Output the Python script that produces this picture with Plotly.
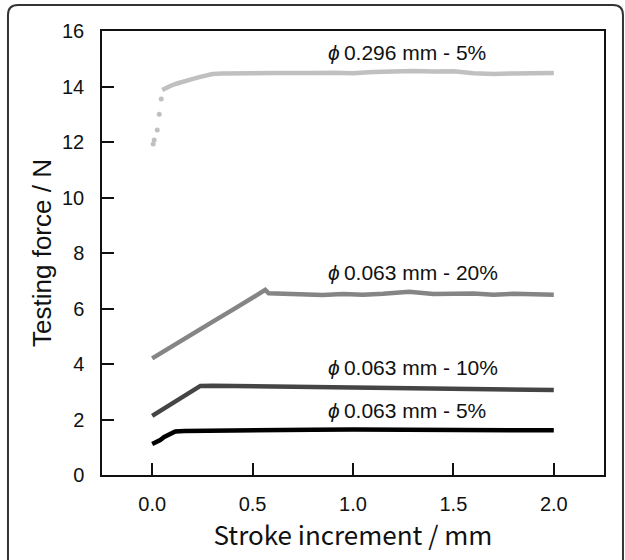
import plotly.graph_objects as go

# ---- data ----
# phi 0.296 mm - 5% : sparse initial points (drawn as dots) and the continuous part
d296_x_dots = [0.005, 0.010, 0.025, 0.035, 0.045]
d296_y_dots = [11.93, 12.07, 12.43, 13.00, 13.55]
d296_x = [0.05, 0.07, 0.09, 0.12, 0.15, 0.19, 0.23, 0.27, 0.30, 0.35, 0.40, 0.50, 0.60, 0.70,
          0.80, 0.90, 1.00, 1.10, 1.20, 1.30, 1.40, 1.50, 1.60, 1.70, 1.80, 1.90, 2.00]
d296_y = [13.87, 13.95, 14.02, 14.10, 14.18, 14.25, 14.33, 14.40, 14.45, 14.47, 14.46, 14.48, 14.49, 14.47,
          14.49, 14.50, 14.48, 14.52, 14.55, 14.56, 14.54, 14.55, 14.48, 14.45, 14.47, 14.46, 14.49]

# phi 0.063 mm - 20%
d20_x = [0.00, 0.10, 0.20, 0.30, 0.40, 0.50, 0.563, 0.58, 0.65, 0.75, 0.85, 0.95, 1.05, 1.15,
         1.28, 1.40, 1.50, 1.60, 1.70, 1.80, 1.90, 2.00]
d20_y = [4.20, 4.65, 5.10, 5.52, 5.95, 6.38, 6.67, 6.55, 6.53, 6.51, 6.49, 6.52, 6.50, 6.53,
         6.60, 6.52, 6.55, 6.54, 6.50, 6.53, 6.51, 6.50]

# phi 0.063 mm - 10%
d10_x = [0.00, 0.05, 0.10, 0.15, 0.20, 0.24, 0.30, 0.40, 0.50, 0.60, 0.80, 1.00, 1.20, 1.40,
         1.60, 1.80, 2.00]
d10_y = [2.13, 2.35, 2.60, 2.83, 3.05, 3.21, 3.22, 3.21, 3.19, 3.18, 3.15, 3.14, 3.12, 3.11,
         3.09, 3.08, 3.06]

# phi 0.063 mm - 5%
d5_x = [0.00, 0.02, 0.04, 0.06, 0.08, 0.10, 0.115, 0.16, 0.25, 0.40, 0.60, 0.80, 1.00, 1.20,
        1.40, 1.60, 1.80, 2.00]
d5_y = [1.12, 1.17, 1.26, 1.37, 1.45, 1.52, 1.57, 1.59, 1.60, 1.62, 1.62, 1.63, 1.64, 1.64,
        1.63, 1.63, 1.62, 1.61]

labels = ["\u03d50.296 mm - 5%", "\u03d50.063 mm - 20%", "\u03d50.063 mm - 10%", "\u03d50.063 mm - 5%"]
label_x = [0.865, 0.865, 0.865, 0.865]
label_y = [15.24, 7.28, 3.89, 2.34]

x_ticks = [0.0, 0.5, 1.0, 1.5, 2.0]
x_ticktext = ["0.0", "0.5", "1.0", "1.5", "2.0"]
y_ticks = [0, 2, 4, 6, 8, 10, 12, 14, 16]

c296, c20, c10, c5 = "#c0c0c0", "#858585", "#454545", "#000000"

fig = go.Figure()
fig.add_trace(go.Scatter(x=d296_x_dots, y=d296_y_dots, mode="markers",
                         marker=dict(color=c296, size=5), showlegend=False))
fig.add_trace(go.Scatter(x=d296_x, y=d296_y, mode="lines",
                         line=dict(color=c296, width=4.5), showlegend=False))
fig.add_trace(go.Scatter(x=d20_x, y=d20_y, mode="lines",
                         line=dict(color=c20, width=4.5), showlegend=False))
fig.add_trace(go.Scatter(x=d10_x, y=d10_y, mode="lines",
                         line=dict(color=c10, width=4.5), showlegend=False))
fig.add_trace(go.Scatter(x=d5_x, y=d5_y, mode="lines",
                         line=dict(color=c5, width=4.5), showlegend=False))

for t, lx, ly in zip(labels, label_x, label_y):
    txt = "<i>" + t[0] + "</i>\u2009" + t[1:]
    fig.add_annotation(x=lx, y=ly, text=txt, showarrow=False, xanchor="left", yanchor="middle",
                       font=dict(family="Liberation Sans, Arial", size=21, color="#111111"))

# outer rounded frame (paper coordinates)
L, R, T, B = -0.1873, 1.0378, 1.0586, -0.25
rx, ry = 0.02, 0.0225
path = (f"M {L},{B} L {L},{T-ry} Q {L},{T} {L+rx},{T} L {R-rx},{T} "
        f"Q {R},{T} {R},{T-ry} L {R},{B}")
fig.add_shape(type="path", xref="paper", yref="paper", path=path,
              line=dict(color="#333333", width=2))

tickfont = dict(family="Liberation Sans, Arial", size=20, color="#111111")
xtitlefont = dict(family="Noto Sans CJK JP, Liberation Sans", size=26, color="#111111")
ytitlefont = dict(family="Liberation Sans, Arial", size=26, color="#111111")

fig.update_xaxes(range=[-0.25, 2.25], tickvals=x_ticks, ticktext=x_ticktext,
                 ticks="inside", ticklen=12, tickwidth=1.5, tickcolor="#111111",
                 showline=True, linecolor="#111111", linewidth=1.5, mirror=True,
                 showgrid=False, zeroline=False, tickfont=tickfont, ticklabelstandoff=10,
                 title=dict(text="Stroke increment / mm", font=xtitlefont, standoff=10))
fig.update_yaxes(range=[0, 16], tickvals=y_ticks,
                 ticks="inside", ticklen=12, tickwidth=1.5, tickcolor="#111111",
                 showline=True, linecolor="#111111", linewidth=1.5, mirror=True,
                 showgrid=False, zeroline=False, tickfont=tickfont, ticklabelstandoff=12,
                 title=dict(text="Testing force / N", font=ytitlefont, standoff=3))

fig.update_layout(width=625, height=560, plot_bgcolor="white", paper_bgcolor="white",
                  margin=dict(l=102, r=21, t=31, b=85), showlegend=False)

fig.write_html("out.html")
